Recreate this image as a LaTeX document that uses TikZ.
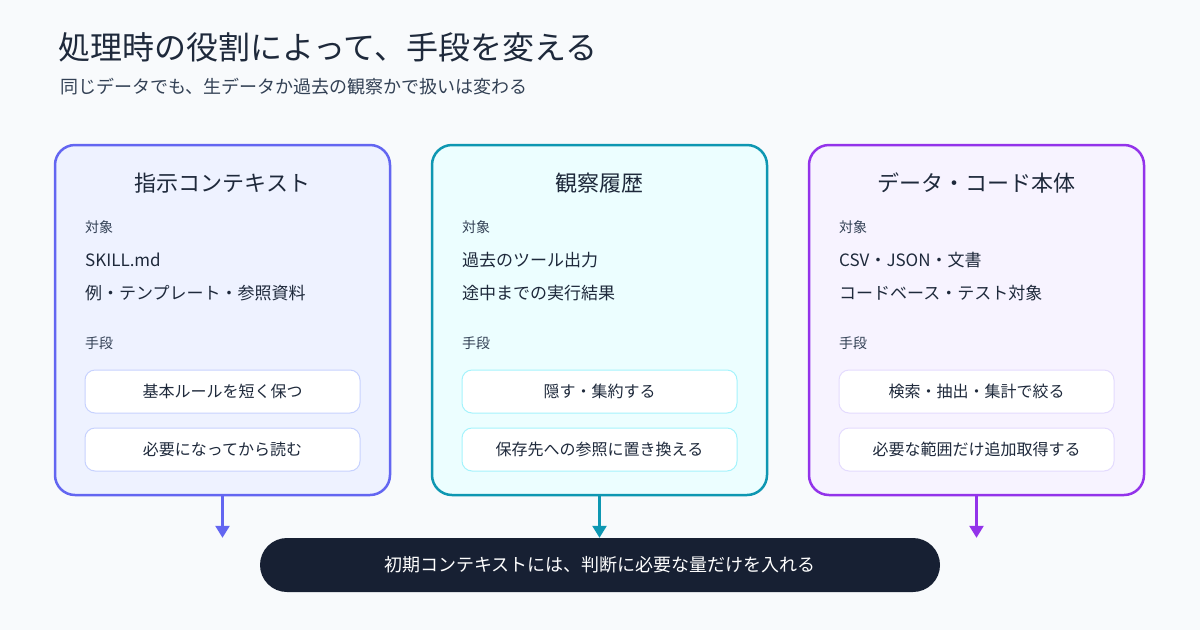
\documentclass[tikz,border=0pt]{standalone}
\usepackage{fontspec}
\setmainfont{Noto Sans CJK JP}
\usepackage{tikz}
\usetikzlibrary{positioning,arrows.meta}
\definecolor{bg}{HTML}{F8FAFC}
\definecolor{ink}{HTML}{1E293B}
\definecolor{muted}{HTML}{334155}
\definecolor{cindigo}{HTML}{6366F1}
\definecolor{cindigofill}{HTML}{EEF2FF}
\definecolor{cindigoline}{HTML}{C7D2FE}
\definecolor{cteal}{HTML}{0E97B2}
\definecolor{ctealfill}{HTML}{ECFEFF}
\definecolor{ctealline}{HTML}{A5F3FC}
\definecolor{cviolet}{HTML}{9333EA}
\definecolor{cvioletfill}{HTML}{F7F3FF}
\definecolor{cvioletline}{HTML}{E4DBFE}
\definecolor{navy}{HTML}{172033}
\tikzstyle{panel} = [rectangle, rounded corners=20pt, line width=2.5pt, minimum width=335pt, minimum height=350pt]
\tikzstyle{heading} = [font=\fontsize{22}{26}\selectfont, text=ink, inner sep=0pt]
\tikzstyle{tag} = [font=\fontsize{14}{17}\selectfont, text=muted, anchor=west, inner sep=0pt]
\tikzstyle{item} = [font=\fontsize{17}{21}\selectfont, text=ink, anchor=west, inner sep=0pt]
\tikzstyle{means} = [rectangle, rounded corners=10pt, fill=white, line width=1pt, minimum width=275pt, minimum height=43pt, font=\fontsize{16}{19}\selectfont, text=ink]
\tikzstyle{result} = [rectangle, rounded corners=27pt, fill=navy, minimum width=680pt, minimum height=54pt, font=\fontsize{18}{22}\selectfont, text=white]
\tikzstyle{tedge} = [draw, line width=2.5pt, -{Triangle[width=14pt,length=12pt]}]

\begin{document}
\begin{tikzpicture}[x=1pt, y=-1pt]
\useasboundingbox[fill=bg] (0,0) rectangle (1200,630);

% titles =============================
\node[anchor=west, inner sep=0pt, font=\fontsize{32}{38}\selectfont, text=ink] (title) at (58,47) {処理時の役割によって、手段を変える};
\node[anchor=west, inner sep=0pt, font=\fontsize{18}{22}\selectfont, text=muted] (sub) at (60,87) {同じデータでも、生データか過去の観察かで扱いは変わる};

% panels
\node[panel, draw=cindigo, fill=cindigofill] (p1) at (222.5,320) {};
\node[panel, draw=cteal, fill=ctealfill] (p2) at (599.5,320) {};
\node[panel, draw=cviolet, fill=cvioletfill] (p3) at (976.5,320) {};

% panel 1
\node[heading] (h1) at (222.5,183) {指示コンテキスト};
\node[tag] (t1) at (85,227) {対象};
\node[item] (a1) at (85,260) {SKILL.md};
\node[item] (b1) at (85,293) {例・テンプレート・参照資料};
\node[tag] (s1) at (85,343) {手段};
\node[means, draw=cindigoline] (m1) at (222.5,391.5) {基本ルールを短く保つ};
\node[means, draw=cindigoline, below=14pt of m1] (n1) {必要になってから読む};

% panel 2
\node[heading] (h2) at (599.5,183) {観察履歴};
\node[tag] (t2) at (462,227) {対象};
\node[item] (a2) at (462,260) {過去のツール出力};
\node[item] (b2) at (462,293) {途中までの実行結果};
\node[tag] (s2) at (462,343) {手段};
\node[means, draw=ctealline] (m2) at (599.5,391.5) {隠す・集約する};
\node[means, draw=ctealline, below=14pt of m2] (n2) {保存先への参照に置き換える};

% panel 3
\node[heading] (h3) at (976.5,183) {データ・コード本体};
\node[tag] (t3) at (839,227) {対象};
\node[item] (a3) at (839,260) {CSV・JSON・文書};
\node[item] (b3) at (839,293) {コードベース・テスト対象};
\node[tag] (s3) at (839,343) {手段};
\node[means, draw=cvioletline] (m3) at (976.5,391.5) {検索・抽出・集計で絞る};
\node[means, draw=cvioletline, below=14pt of m3] (n3) {必要な範囲だけ追加取得する};

% result
\node[result] (res) at (600,565) {初期コンテキストには、判断に必要な量だけを入れる};

% edges panels to result
\path[tedge, draw=cindigo, fill=cindigo] (p1.south) -- (p1.south |- res.north);
\path[tedge, draw=cteal, fill=cteal] (p2.south) -- (p2.south |- res.north);
\path[tedge, draw=cviolet, fill=cviolet] (p3.south) -- (p3.south |- res.north);

\end{tikzpicture}
\end{document}
